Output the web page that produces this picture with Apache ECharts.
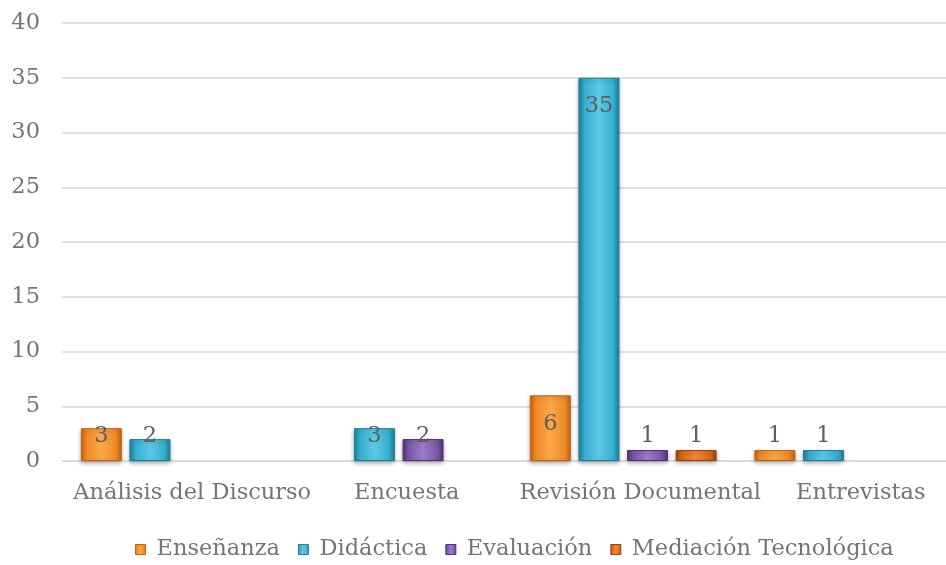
<!DOCTYPE html>
<html>
<head>
<meta charset="utf-8">
<script src="https://cdn.jsdelivr.net/npm/echarts@6/dist/echarts.min.js"></script>
<style>
html,body{margin:0;padding:0;overflow:hidden;background:#fff;width:946px;height:565px;}
#c{width:962px;height:565px;}
</style>
</head>
<body>
<div id="c"></div>
<script>
var categories = ['Análisis del Discurso', 'Encuesta', 'Revisión Documental', 'Entrevistas'];
var labelShift = [18, 8, 17, 13];
var seriesNames = ['Enseñanza', 'Didáctica', 'Evaluación', 'Mediación Tecnológica'];
var ensenanza = [3, null, 6, 1];
var didactica = [2, 3, 35, 1];
var evaluacion = [null, 2, 1, null];
var mediacion = [null, null, 1, null];
var yTicks = [0, 5, 10, 15, 20, 25, 30, 35, 40];

var palettes = [
  {edge:'#c4650f', base:'#f28a25', light:'#f8a848'},
  {edge:'#1f7f99', base:'#36afd0', light:'#5cc9e6'},
  {edge:'#4f3479', base:'#7a56a6', light:'#9d7ccc'},
  {edge:'#9c420c', base:'#d9661b', light:'#ee8a3a'}
];
var FONT = 'DejaVu Serif';
var FS = 22.5;

function grad(p){
  return new echarts.graphic.LinearGradient(0,0,1,0,[
    {offset:0,color:p.edge},{offset:0.15,color:p.base},
    {offset:0.5,color:p.light},{offset:0.85,color:p.base},{offset:1,color:p.edge}
  ]);
}
function items(arr){
  return arr.map(function(v){
    if(v==null) return null;
    var big = v > 4;
    return {value:v, label:{position: big?'insideTop':'insideBottom', distance: big?17:13}};
  });
}
var all = [ensenanza, didactica, evaluacion, mediacion];
var series = all.map(function(arr,i){
  return {
    name: seriesNames[i], type:'bar', data: items(arr),
    barGap:'18.5%', barCategoryGap:'16.8%',
    itemStyle:{color:grad(palettes[i]), borderColor:palettes[i].edge, borderWidth:1,
      shadowColor:'rgba(0,0,0,0.3)', shadowBlur:4, shadowOffsetY:2},
    label:{show:true, color:'#5f5f5f', fontFamily:FONT, fontSize:FS},
    emphasis:{disabled:true}
  };
});

var chart = echarts.init(document.getElementById('c'));
chart.setOption({
  animation:false,
  grid:{left:62, right:2, top:23, bottom:104},
  legend:{
    left:130, top:533, itemWidth:10, itemHeight:10, itemGap:18, icon:'rect',
    textStyle:{fontFamily:FONT, fontSize:FS, lineHeight:22, color:'#757575', padding:[0,0,0,6]},
    data: seriesNames.map(function(n,i){return {name:n, itemStyle:{color:grad(palettes[i]), borderColor:palettes[i].edge, borderWidth:1}};})
  },
  xAxis:{
    type:'category',
    data: categories.map(function(c,i){return {value:c, textStyle:{padding:[0,0,0,labelShift[i]*2]}};}),
    axisLine:{lineStyle:{color:'#d9d9d9', width:1.5}},
    axisTick:{show:false},
    axisLabel:{fontFamily:FONT, fontSize:FS, color:'#757575', margin:21, interval:0}
  },
  yAxis:{
    type:'value', min:yTicks[0], max:yTicks[yTicks.length-1], interval:yTicks[1]-yTicks[0],
    axisLine:{show:false}, axisTick:{show:false},
    splitLine:{lineStyle:{color:'#d9d9d9', width:1.5}},
    axisLabel:{fontFamily:FONT, fontSize:FS, color:'#757575', margin:22}
  },
  series: series
});
</script>
</body>
</html>
